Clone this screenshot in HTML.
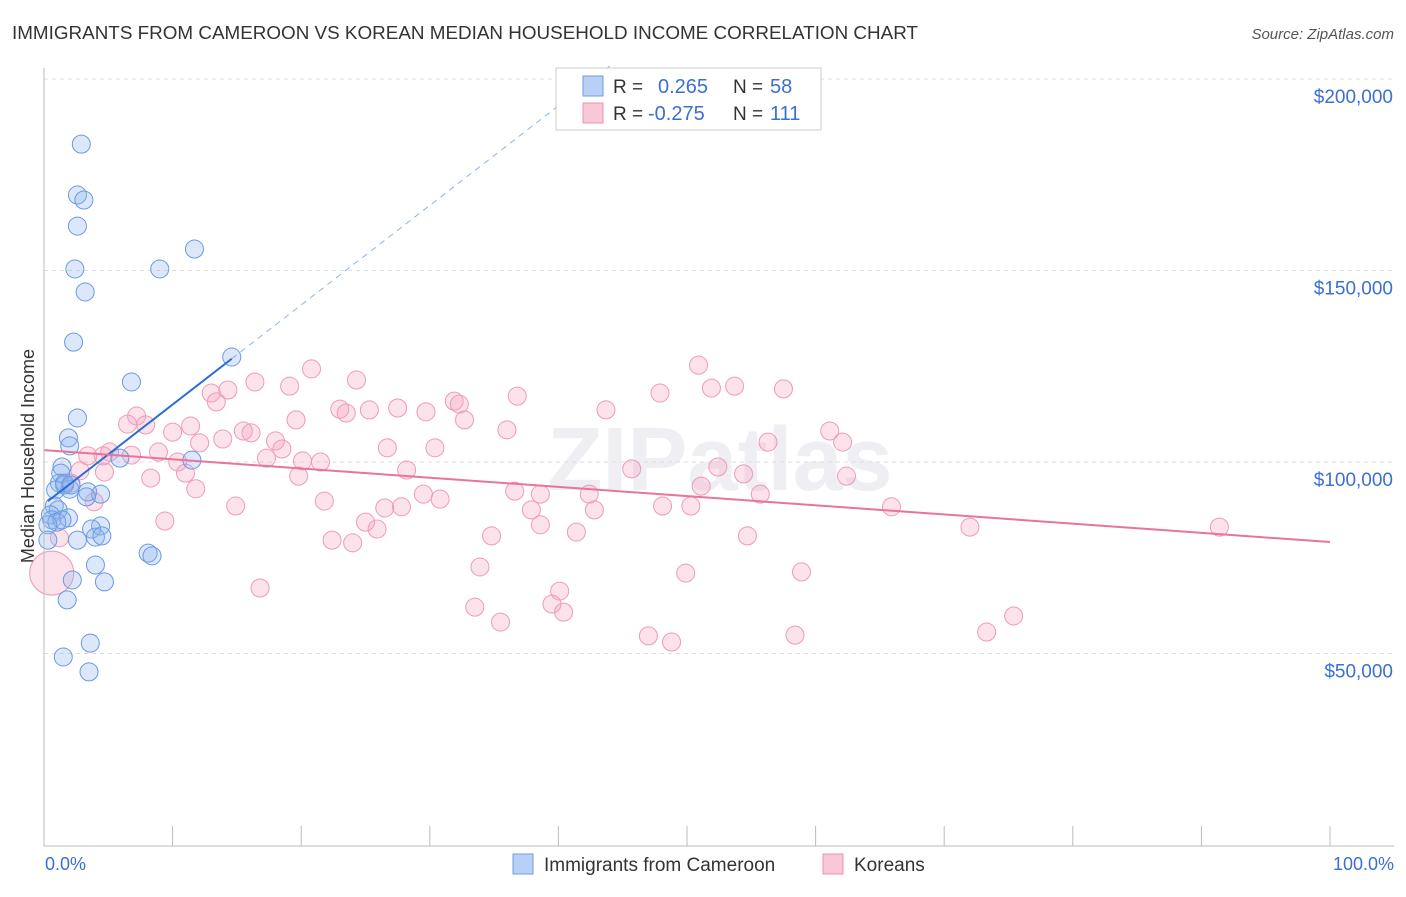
<!DOCTYPE html>
<html><head><meta charset="utf-8"><style>
body{margin:0;background:#fff;font-family:"Liberation Sans",sans-serif;}
svg text{font-family:"Liberation Sans",sans-serif;}
</style></head><body>
<svg id="chart" width="1406" height="892">
<text x="12" y="39" font-size="18" fill="#333" textLength="906" lengthAdjust="spacingAndGlyphs">IMMIGRANTS FROM CAMEROON VS KOREAN MEDIAN HOUSEHOLD INCOME CORRELATION CHART</text>
<text x="1394" y="39" font-size="15" fill="#555" font-style="italic" text-anchor="end">Source: ZipAtlas.com</text>
<text x="34" y="456" font-size="18" fill="#333" text-anchor="middle" transform="rotate(-90 34 456)">Median Household Income</text>
<text x="720" y="490" font-size="90" fill="#eeeef3" text-anchor="middle" font-weight="bold">ZIPatlas</text>
<g id="grid"></g><g id="pts"></g><g id="lines"></g>
<line x1="44" y1="68" x2="44" y2="846" stroke="#bbb"/>
<line x1="44" y1="846" x2="1394" y2="846" stroke="#bbb"/>
<text x="45" y="870" font-size="18" fill="#3b6fd4">0.0%</text>
<text x="1394" y="870" font-size="18" fill="#3b6fd4" text-anchor="end">100.0%</text>
<g>
<rect x="556" y="68" width="265" height="62" fill="#fff" stroke="#ccc"/>
<rect x="583" y="76" width="20" height="20" fill="#b8d0f5" stroke="#6c9be6"/>
<rect x="583" y="103" width="20" height="20" fill="#f9c8d7" stroke="#ee92b0"/>
<text x="613" y="93" font-size="19" fill="#333">R =</text>
<text x="658" y="93" font-size="20" fill="#3b6fd4">0.265</text>
<text x="733" y="93" font-size="19" fill="#333">N =</text>
<text x="770" y="93" font-size="20" fill="#3b6fd4">58</text>
<text x="613" y="120" font-size="19" fill="#333">R =</text>
<text x="648" y="120" font-size="20" fill="#3b6fd4">-0.275</text>
<text x="733" y="120" font-size="19" fill="#333">N =</text>
<text x="770" y="120" font-size="20" fill="#3b6fd4">111</text>
</g>
<g>
<rect x="513" y="854" width="20" height="20" fill="#b8d0f5" stroke="#6c9be6"/>
<text x="544" y="871" font-size="19" fill="#333">Immigrants from Cameroon</text>
<rect x="823" y="854" width="20" height="20" fill="#f9c8d7" stroke="#ee92b0"/>
<text x="854" y="871" font-size="19" fill="#333">Koreans</text>
</g>
</svg>
<script>
const yTicks=[50000,100000,150000,200000];
const yTickLabels=["$50,000","$100,000","$150,000","$200,000"];
const blueX=[2.9,2.6,3.1,2.6,11.7,2.4,9.0,3.2,2.3,14.6,6.8,2.6,1.9,2.0,5.9,11.5,1.4,1.3,1.2,1.6,2.0,0.9,3.4,4.4,3.3,0.8,1.1,0.5,1.9,0.6,1.0,1.4,0.3,4.4,3.7,4.0,4.5,2.6,0.3,8.1,8.4,4.0,2.2,4.7,1.8,3.6,1.5,3.5,1.6,2.1];
const blueY=[183.0,169.7,168.4,161.6,155.6,150.4,150.4,144.4,131.3,127.4,120.9,111.5,106.3,104.2,101.0,100.5,98.7,97.1,94.5,94.0,92.9,92.7,92.2,91.6,90.9,88.5,87.5,86.2,85.4,84.9,84.3,84.9,83.6,83.3,82.5,80.4,80.7,79.6,79.6,76.2,75.5,73.1,69.2,68.7,64.0,52.7,49.1,45.2,94.5,94.0];
const pinkX=[50.9,20.8,24.3,16.4,51.9,53.7,57.5,47.9,19.1,13.0,14.3,36.8,31.9,32.3,13.4,25.3,27.5,29.7,23.0,23.5,43.7,19.6,7.2,32.7,7.9,6.5,11.4,15.5,16.1,36.0,10.0,13.9,18.0,61.1,56.3,12.1,62.1,26.7,30.4,8.9,18.5,6.8,3.4,17.3,5.1,10.4,20.1,21.5,8.3,11.0,19.8,28.2,45.7,52.4,54.4,62.4,2.8,4.7,2.1,11.8,36.6,38.6,29.5,42.4,30.8,51.1,21.8,55.7,3.9,14.9,26.5,27.8,37.9,42.8,48.1,50.3,65.9,9.4,25.0,25.9,38.6,72.0,91.4,41.4,34.8,22.4,24.0,54.7,1.2,33.9,16.8,49.9,58.9,40.1,39.5,40.4,33.5,35.5,75.4,73.3,47.0,48.8,58.4,4.6];
const pinkY=[125.3,124.3,121.4,120.9,119.3,119.8,119.1,118.0,119.8,118.0,118.8,117.2,115.9,115.1,115.7,113.6,114.1,113.1,113.8,112.8,113.6,111.0,112.0,111.0,109.7,109.9,109.4,108.1,107.6,108.4,107.8,106.0,105.5,108.1,105.2,105.0,105.2,103.7,103.7,102.6,103.4,101.8,101.6,101.0,102.6,100.0,100.3,100.0,95.8,97.1,96.3,97.9,98.2,98.7,96.9,96.3,97.7,97.4,94.5,93.0,92.4,91.6,91.6,91.6,90.3,93.7,89.8,91.6,89.6,88.5,88.0,88.3,87.5,87.5,88.5,88.5,88.3,84.6,84.3,82.5,83.6,83.0,83.0,81.7,80.7,79.6,78.9,80.7,80.2,72.6,67.1,71.0,71.3,66.3,62.9,60.8,62.1,58.2,59.8,55.6,54.6,53.0,54.8,101.6];
const bigPink=[[0.6,71.0]];
const blueLine=[89,2.6], pinkLine=[103.1,-0.24];
const ns="http://www.w3.org/2000/svg";
const X=p=>44+p*12.86, Y=k=>845-k*1000*191.5/50000;
function mk(t,a,parent){const e=document.createElementNS(ns,t);for(const k in a)e.setAttribute(k,a[k]);document.getElementById(parent).appendChild(e);return e;}
yTicks.forEach((v,i)=>{
 const l=mk('line',{x1:44,x2:1394,y1:Y(v/1000),y2:Y(v/1000),stroke:'#ddd','stroke-dasharray':'4,4'},'grid');
 
 
 const t=mk('text',{x:1393,y:Y(v/1000)+24,'font-size':19,fill:'#3b6fd4','text-anchor':'end'},'grid');
 t.textContent=yTickLabels[i];
 
 
});
for(let i=1;i<=10;i++){const t=mk('line',{x1:44+i*128.6,x2:44+i*128.6,y1:826,y2:846,stroke:'#bbb'},'grid');
 
 }
pinkX.forEach((x,i)=>{const c=mk('circle',{cx:X(x),cy:Y(pinkY[i]),r:9,fill:'rgba(245,160,190,0.3)',stroke:'#ee9bb6','stroke-width':1},'pts');
 
 });
bigPink.forEach(p=>{const c=mk('circle',{cx:X(p[0]),cy:Y(p[1]),r:22,fill:'rgba(245,160,190,0.3)',stroke:'#ee9bb6'},'pts');
 
 });
blueX.forEach((x,i)=>{const c=mk('circle',{cx:X(x),cy:Y(blueY[i]),r:9,fill:'rgba(140,180,240,0.3)',stroke:'#6a9ae2','stroke-width':1},'pts');
 
 });
const bl=x=>blueLine[0]+blueLine[1]*x, pl=x=>pinkLine[0]+pinkLine[1]*x;
let e=mk('line',{x1:X(0.3),y1:Y(bl(0.3)),x2:X(14.6),y2:Y(bl(14.6)),stroke:'#2a6dd4','stroke-width':2},'lines');


e=mk('line',{x1:X(14.6),y1:Y(bl(14.6)),x2:X(44),y2:Y(bl(44)),stroke:'#8fb2ea','stroke-width':1,'stroke-dasharray':'6,5'},'lines');


e=mk('line',{x1:X(0),y1:Y(pl(0)),x2:X(100),y2:Y(pl(100)),stroke:'#e8739b','stroke-width':2},'lines');


</script>
</body></html>
